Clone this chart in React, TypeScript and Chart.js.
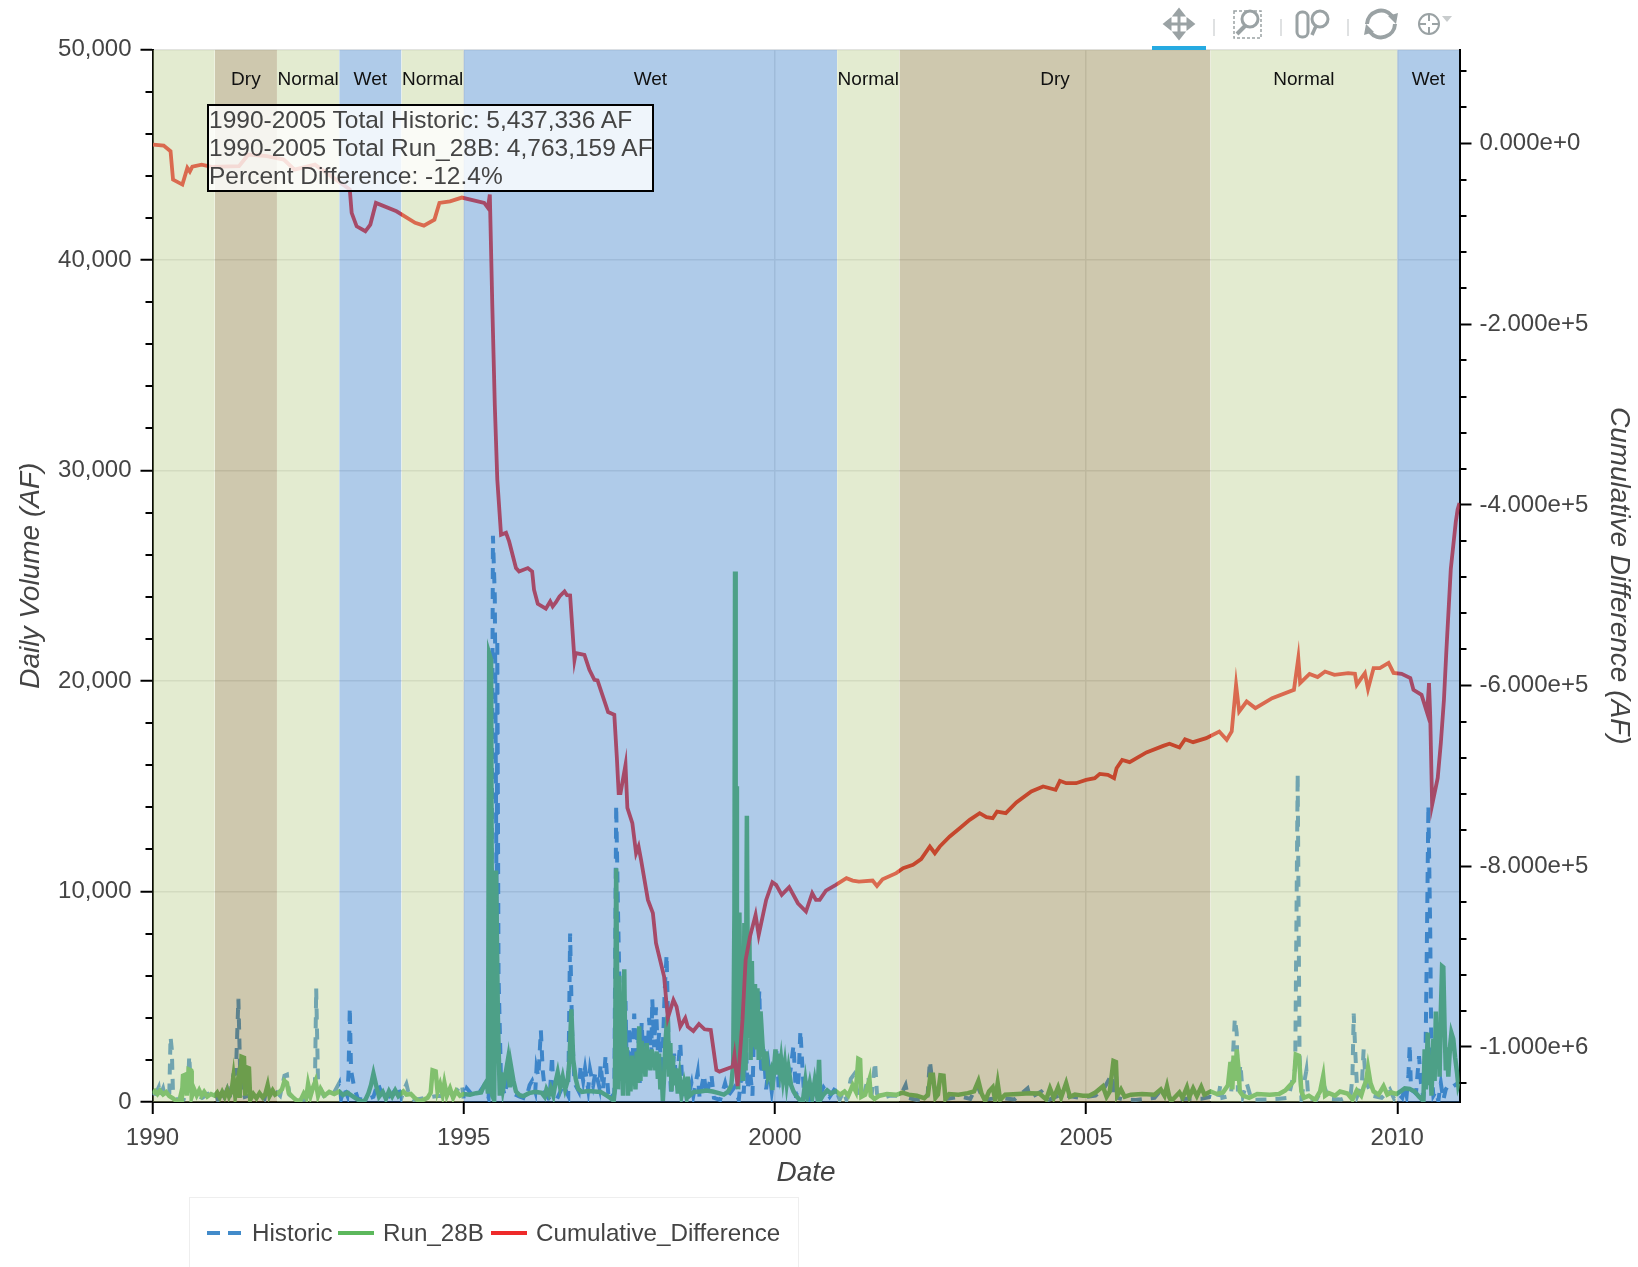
import React, { useEffect, useRef } from "react";
import { Chart, registerables } from "chart.js";

Chart.register(...registerables);

const FONT = '"Liberation Sans", Arial, sans-serif';

const legendNames = ["Historic", "Run_28B", "Cumulative_Difference"];
const tooltipLines = [
  "1990-2005 Total Historic: 5,437,336 AF",
  "1990-2005 Total Run_28B: 4,763,159 AF",
  "Percent Difference: -12.4%",
];

const bandStarts = [1990, 1991, 1992, 1993, 1994, 1995, 2001, 2002, 2007, 2010];
const bandEnds = [1991, 1992, 1993, 1994, 1995, 2001, 2002, 2007, 2010, 2011];
const bandTypes = ["Normal", "Dry", "Normal", "Wet", "Normal", "Wet", "Normal", "Dry", "Normal", "Wet"];
const bandLabels = ["", "Dry", "Normal", "Wet", "Normal", "Wet", "Normal", "Dry", "Normal", "Wet"];
const rightTicks = [0, -200000, -400000, -600000, -800000, -1000000];

const cumulativePoints = [
  [1990.01, -1100], [1990.18, -2200], [1990.29, -8500], [1990.33, -39900], [1990.48, -45400], [1990.56, -26900],
  [1990.6, -31000], [1990.64, -25500], [1990.79, -23300], [1990.95, -25800], [1991.39, -25100], [1991.54, -12200],
  [1991.84, -14000], [1992.11, -17700], [1992.28, -28800], [1992.61, -23300], [1992.95, -39900], [1993.17, -50900],
  [1993.2, -76700], [1993.28, -91600], [1993.42, -97100], [1993.5, -89700], [1993.59, -65700], [1993.92, -75000],
  [1994.22, -87800], [1994.36, -90800], [1994.53, -84200], [1994.61, -65700], [1994.78, -63900], [1994.97, -59800],
  [1995.33, -65700], [1995.39, -71200], [1995.42, -56500], [1995.46, -180000], [1995.5, -290000], [1995.54, -372000],
  [1995.6, -433000], [1995.68, -430800], [1995.73, -440400], [1995.84, -469900], [1995.89, -473600], [1996.03, -469900],
  [1996.1, -473600], [1996.13, -493900], [1996.19, -509400], [1996.32, -514900], [1996.39, -506900], [1996.43, -512400],
  [1996.48, -508000], [1996.54, -501300], [1996.62, -495800], [1996.66, -500000], [1996.71, -500200], [1996.78, -571400],
  [1996.8, -564000], [1996.94, -565900], [1997.02, -582500], [1997.1, -593600], [1997.15, -594300], [1997.29, -623100],
  [1997.32, -629300], [1997.42, -632300], [1997.46, -678500], [1997.49, -719000], [1997.52, -719000], [1997.6, -687700],
  [1997.63, -735300], [1997.71, -752300], [1997.77, -785500], [1997.81, -778200], [1997.85, -792900], [1997.96, -837200],
  [1998.04, -851900], [1998.09, -885200], [1998.22, -922100], [1998.28, -968000], [1998.37, -948000], [1998.42, -955400],
  [1998.48, -977500], [1998.56, -968000], [1998.6, -977500], [1998.69, -982300], [1998.78, -974500], [1998.87, -980400],
  [1998.97, -981200], [1999.06, -1025400], [1999.11, -1027300], [1999.32, -1021800], [1999.35, -1008800], [1999.4, -1043200],
  [1999.48, -970100], [1999.53, -903600], [1999.6, -877800], [1999.69, -853800], [1999.74, -876000], [1999.86, -837200],
  [1999.96, -817600], [2000.02, -820600], [2000.11, -831700], [2000.23, -823100], [2000.37, -840900], [2000.5, -850100],
  [2000.6, -829800], [2000.66, -837200], [2000.72, -837200], [2000.82, -826900], [2000.98, -820600], [2001.15, -813200],
  [2001.25, -815800], [2001.35, -817000], [2001.57, -815800], [2001.64, -821700], [2001.73, -814300], [2001.95, -807600],
  [2002.06, -802100], [2002.22, -798400], [2002.35, -792100], [2002.49, -778100], [2002.57, -785500], [2002.65, -778100],
  [2002.81, -767000], [2002.97, -757800], [2003.13, -748600], [2003.29, -741200], [2003.4, -745600], [2003.5, -746800],
  [2003.57, -739400], [2003.71, -741200], [2003.88, -729400], [2004.12, -717200], [2004.31, -711700], [2004.51, -715400],
  [2004.58, -705400], [2004.68, -708000], [2004.84, -708000], [2005.0, -704300], [2005.14, -702500], [2005.22, -697700],
  [2005.35, -698800], [2005.45, -702500], [2005.49, -691400], [2005.58, -682200], [2005.7, -684700], [2005.97, -674000],
  [2006.24, -666700], [2006.34, -664400], [2006.5, -668500], [2006.59, -659300], [2006.72, -662600], [2006.93, -658200],
  [2007.14, -650800], [2007.26, -660000], [2007.34, -650800], [2007.41, -599100], [2007.46, -628700], [2007.58, -617600],
  [2007.72, -624900], [2007.99, -613900], [2008.34, -604600], [2008.41, -569500], [2008.44, -597200], [2008.59, -587000],
  [2008.72, -590600], [2008.84, -584400], [2008.99, -588100], [2009.21, -586200], [2009.32, -587000], [2009.35, -599100],
  [2009.42, -592000], [2009.48, -586200], [2009.53, -603900], [2009.62, -580600], [2009.72, -580600], [2009.86, -574800],
  [2009.94, -586000], [2010.07, -587000], [2010.21, -591600], [2010.26, -604600], [2010.39, -610200], [2010.48, -630100],
  [2010.51, -597200], [2010.53, -634300], [2010.56, -732000], [2010.65, -702100], [2010.7, -663700], [2010.75, -615700],
  [2010.79, -560200], [2010.86, -471000], [2010.94, -419000], [2010.97, -405000], [2011, -398000],
];

const historicPoints = [
  [1990, 420], [1990.05, 380], [1990.1, 700], [1990.12, 300], [1990.17, 650], [1990.2, 250], [1990.27, 420], [1990.29, 3100],
  [1990.31, 2500], [1990.33, 350], [1990.4, 80], [1990.5, 120], [1990.57, 700], [1990.59, 2200], [1990.62, 500],
  [1990.7, 300], [1990.8, 200], [1990.9, 400], [1991.02, 500], [1991.05, 100], [1991.1, 500], [1991.15, 250], [1991.2, 620],
  [1991.24, 200], [1991.3, 1300], [1991.34, 1350], [1991.38, 4900], [1991.41, 1200], [1991.44, 200], [1991.55, 300],
  [1991.7, 450], [1991.8, 150], [1991.85, 800], [1991.9, 200], [1992.0, 450], [1992.05, 300], [1992.12, 1250], [1992.16, 1300],
  [1992.2, 350], [1992.3, 100], [1992.45, 120], [1992.55, 500], [1992.61, 800], [1992.63, 5400], [1992.66, 900], [1992.75, 300],
  [1992.9, 350], [1993.0, 900], [1993.03, 150], [1993.08, 650], [1993.13, 300], [1993.15, 1400], [1993.17, 4500], [1993.19, 1500],
  [1993.24, 700], [1993.3, 150], [1993.42, 100], [1993.55, 250], [1993.62, 900], [1993.72, 100], [1993.85, 350],
  [1993.94, 780], [1994.0, 200], [1994.05, 650], [1994.08, 850], [1994.13, 250], [1994.2, 100], [1994.4, 200], [1994.6, 300],
  [1994.8, 200], [1994.97, 850], [1995.0, 150], [1995.05, 650], [1995.15, 300], [1995.25, 450], [1995.33, 800], [1995.4, 200],
  [1995.44, 3000], [1995.47, 26900], [1995.5, 24000], [1995.52, 14000], [1995.53, 8000], [1995.54, 22000], [1995.56, 6000],
  [1995.6, 1000], [1995.66, 300], [1995.72, 1400], [1995.8, 400], [1995.9, 250], [1996.0, 150], [1996.06, 800], [1996.1, 1000],
  [1996.15, 500], [1996.17, 1600], [1996.2, 1200], [1996.22, 2300], [1996.24, 3400], [1996.27, 1500], [1996.31, 400],
  [1996.38, 100], [1996.42, 2200], [1996.44, 400], [1996.5, 150], [1996.6, 800], [1996.68, 300], [1996.71, 8000], [1996.74, 3500],
  [1996.78, 900], [1996.85, 500], [1996.88, 1750], [1996.92, 1000], [1996.95, 1600], [1997.0, 600], [1997.03, 1550], [1997.08, 800],
  [1997.12, 1450], [1997.18, 700], [1997.2, 1800], [1997.24, 600], [1997.28, 2200], [1997.33, 100], [1997.42, 400], [1997.45, 14100],
  [1997.48, 9000], [1997.52, 3000], [1997.55, 1200], [1997.6, 4800], [1997.62, 1500], [1997.66, 3600], [1997.7, 800], [1997.74, 4200],
  [1997.77, 1800], [1997.8, 3600], [1997.83, 900], [1997.86, 3800], [1997.89, 1600], [1997.92, 3300], [1997.95, 2000], [1997.98, 4000],
  [1998.01, 1700], [1998.03, 4900], [1998.06, 2600], [1998.09, 4500], [1998.12, 2400], [1998.14, 3300], [1998.18, 1300], [1998.2, 2600],
  [1998.23, 5300], [1998.26, 7000], [1998.29, 3000], [1998.33, 500], [1998.38, 2300], [1998.42, 900], [1998.48, 2800], [1998.52, 400],
  [1998.6, 200], [1998.66, 900], [1998.69, 300], [1998.76, 1400], [1998.79, 200], [1998.86, 1300], [1998.9, 300], [1998.98, 1300],
  [1999.02, 200], [1999.12, 100], [1999.2, 900], [1999.25, 300], [1999.35, 700], [1999.42, 100], [1999.46, 1200], [1999.5, 400],
  [1999.53, 3200], [1999.56, 600], [1999.6, 1500], [1999.64, 300], [1999.68, 5500], [1999.72, 3000], [1999.75, 5300], [1999.78, 1300],
  [1999.82, 2500], [1999.86, 600], [1999.9, 1700], [1999.95, 500], [2000.0, 1600], [2000.03, 2500], [2000.06, 700], [2000.1, 2200],
  [2000.15, 800], [2000.25, 1500], [2000.3, 2700], [2000.34, 200], [2000.38, 1100], [2000.41, 3400], [2000.44, 1800], [2000.47, 300],
  [2000.52, 900], [2000.56, 100], [2000.63, 800], [2000.7, 200], [2000.78, 700], [2000.88, 250], [2000.98, 700], [2001.04, 100],
  [2001.1, 500], [2001.15, 100], [2001.22, 1100], [2001.27, 1300], [2001.34, 300], [2001.42, 200], [2001.5, 1200], [2001.55, 200],
  [2001.61, 1900], [2001.64, 400], [2001.7, 150], [2001.85, 300], [2002.02, 300], [2002.1, 800], [2002.14, 200], [2002.28, 100],
  [2002.45, 150], [2002.49, 1950], [2002.52, 1200], [2002.6, 300], [2002.75, 150], [2003.0, 250], [2003.14, 150], [2003.25, 800],
  [2003.35, 100], [2003.6, 200], [2003.85, 120], [2004.06, 650], [2004.1, 200], [2004.28, 500], [2004.4, 100], [2004.6, 350],
  [2004.9, 200], [2005.15, 300], [2005.3, 700], [2005.41, 1300], [2005.44, 300], [2005.47, 1900], [2005.5, 200], [2005.6, 120],
  [2005.8, 100], [2006.1, 200], [2006.22, 620], [2006.3, 500], [2006.36, 100], [2006.6, 150], [2006.85, 150], [2007.0, 250],
  [2007.12, 150], [2007.16, 850], [2007.19, 200], [2007.33, 300], [2007.36, 2200], [2007.39, 3970], [2007.42, 3300], [2007.44, 500],
  [2007.48, 1800], [2007.52, 300], [2007.58, 900], [2007.66, 100], [2007.9, 120], [2008.1, 150], [2008.25, 200], [2008.36, 1600],
  [2008.4, 15600], [2008.43, 2200], [2008.46, 200], [2008.54, 1500], [2008.57, 200], [2008.7, 100], [2008.82, 800], [2008.9, 150],
  [2009.1, 120], [2009.25, 300], [2009.28, 1200], [2009.3, 4200], [2009.33, 2100], [2009.36, 300], [2009.43, 800], [2009.46, 2500],
  [2009.49, 1000], [2009.6, 300], [2009.75, 200], [2009.88, 600], [2009.95, 150], [2010.02, 400], [2010.08, 200], [2010.12, 700],
  [2010.15, 300], [2010.18, 1300], [2010.2, 2740], [2010.22, 600], [2010.3, 400], [2010.35, 2180], [2010.38, 900], [2010.42, 200],
  [2010.45, 1300], [2010.47, 6000], [2010.5, 14100], [2010.53, 8000], [2010.55, 1500], [2010.58, 300], [2010.62, 500], [2010.66, 50],
  [2010.7, 900], [2010.74, 100], [2010.78, 600], [2010.82, 800], [2010.88, 700], [2010.95, 850], [2011, 760],
];

const runPoints = [
  [1990, 400], [1990.04, 520], [1990.08, 380], [1990.12, 540], [1990.17, 360], [1990.22, 470], [1990.27, 280], [1990.33, 170],
  [1990.38, 60], [1990.43, 20], [1990.45, 280], [1990.47, 80], [1990.49, 1250], [1990.53, 1300], [1990.55, 300], [1990.58, 1550],
  [1990.62, 1500], [1990.63, 250], [1990.67, 600], [1990.71, 320], [1990.75, 560], [1990.79, 300], [1990.83, 480], [1990.88, 260],
  [1990.94, 380], [1991.0, 300], [1991.04, 450], [1991.08, 220], [1991.12, 480], [1991.16, 250], [1991.2, 560], [1991.23, 260],
  [1991.27, 520], [1991.3, 1200], [1991.33, 300], [1991.37, 1000], [1991.4, 200], [1991.43, 2150], [1991.47, 2100], [1991.49, 300],
  [1991.51, 1650], [1991.55, 1600], [1991.57, 100], [1991.62, 380], [1991.67, 180], [1991.72, 420], [1991.77, 220], [1991.81, 350],
  [1991.85, 800], [1991.88, 280], [1991.93, 550], [1991.97, 350], [1992.03, 450], [1992.08, 600], [1992.12, 1000], [1992.16, 900],
  [1992.19, 420], [1992.25, 240], [1992.32, 60], [1992.38, 90], [1992.43, 400], [1992.47, 200], [1992.5, 850], [1992.54, 300],
  [1992.58, 700], [1992.62, 1000], [1992.66, 300], [1992.7, 620], [1992.76, 300], [1992.84, 480], [1992.92, 380], [1993.0, 500],
  [1993.06, 330], [1993.13, 440], [1993.2, 300], [1993.26, 180], [1993.33, 60], [1993.37, 20], [1993.42, 100], [1993.47, 420],
  [1993.51, 800], [1993.55, 1350], [1993.6, 700], [1993.64, 250], [1993.7, 480], [1993.75, 150], [1993.8, 520], [1993.85, 260],
  [1993.9, 550], [1993.95, 280], [1994.03, 500], [1994.08, 350], [1994.15, 380], [1994.2, 230], [1994.27, 60], [1994.33, 70],
  [1994.42, 200], [1994.47, 450], [1994.5, 1500], [1994.55, 1450], [1994.58, 500], [1994.62, 850], [1994.66, 350], [1994.69, 900],
  [1994.73, 300], [1994.78, 650], [1994.83, 200], [1994.88, 520], [1994.94, 300], [1995.0, 380], [1995.1, 350], [1995.2, 420],
  [1995.28, 450], [1995.33, 800], [1995.37, 1000], [1995.39, 400], [1995.41, 21300], [1995.44, 21000], [1995.46, 300], [1995.49, 80],
  [1995.52, 11000], [1995.55, 4000], [1995.58, 300], [1995.6, 1400], [1995.63, 600], [1995.67, 1300], [1995.71, 2000], [1995.74, 700],
  [1995.76, 1700], [1995.8, 1000], [1995.84, 500], [1995.9, 320], [1995.96, 280], [1996.05, 420], [1996.15, 480], [1996.25, 440],
  [1996.3, 250], [1996.33, 600], [1996.37, 350], [1996.4, 650], [1996.44, 300], [1996.48, 1000], [1996.51, 1400], [1996.55, 700],
  [1996.59, 1200], [1996.63, 600], [1996.67, 1000], [1996.7, 2000], [1996.73, 4400], [1996.76, 2000], [1996.8, 1100], [1996.84, 620],
  [1996.9, 480], [1997.0, 520], [1997.1, 500], [1997.2, 480], [1997.3, 300], [1997.36, 180], [1997.41, 60], [1997.43, 600],
  [1997.45, 11100], [1997.48, 600], [1997.5, 6000], [1997.52, 1000], [1997.54, 3000], [1997.56, 300], [1997.58, 6300], [1997.6, 1200],
  [1997.62, 2600], [1997.64, 300], [1997.66, 2000], [1997.68, 500], [1997.7, 2200], [1997.72, 800], [1997.74, 1900], [1997.76, 600],
  [1997.78, 2400], [1997.8, 900], [1997.82, 3600], [1997.84, 1000], [1997.86, 2900], [1997.88, 1400], [1997.9, 2500], [1997.92, 1200],
  [1997.94, 2800], [1997.96, 1600], [1997.98, 2300], [1998.0, 1500], [1998.02, 2500], [1998.04, 1700], [1998.06, 2300], [1998.08, 1500],
  [1998.1, 2400], [1998.12, 1100], [1998.14, 2300], [1998.16, 600], [1998.18, 1400], [1998.2, 50], [1998.22, 1200], [1998.24, 2800],
  [1998.26, 3600], [1998.28, 4100], [1998.3, 1200], [1998.32, 2800], [1998.34, 500], [1998.36, 2200], [1998.38, 800], [1998.41, 1600],
  [1998.44, 400], [1998.47, 1200], [1998.5, 300], [1998.54, 900], [1998.58, 250], [1998.6, 1200], [1998.63, 300], [1998.7, 480],
  [1998.8, 500], [1998.9, 540], [1999.0, 500], [1999.1, 420], [1999.18, 350], [1999.25, 500], [1999.3, 800], [1999.33, 1800],
  [1999.35, 9000], [1999.36, 25200], [1999.37, 8000], [1999.38, 15000], [1999.39, 5000], [1999.41, 600], [1999.43, 9000], [1999.45, 2000],
  [1999.47, 7000], [1999.49, 1000], [1999.51, 8500], [1999.53, 1500], [1999.55, 13600], [1999.57, 3000], [1999.59, 8000], [1999.61, 2000],
  [1999.63, 6700], [1999.65, 2600], [1999.68, 5600], [1999.7, 2500], [1999.72, 5400], [1999.74, 2000], [1999.77, 4300], [1999.8, 2800],
  [1999.83, 1500], [1999.86, 2400], [1999.89, 1200], [1999.93, 1500], [1999.96, 570], [1999.98, 1400], [2000.01, 2500], [2000.03, 1300],
  [2000.05, 2300], [2000.08, 1500], [2000.1, 2000], [2000.13, 1100], [2000.16, 1800], [2000.19, 900], [2000.22, 1600], [2000.26, 800],
  [2000.3, 500], [2000.34, 300], [2000.4, 100], [2000.45, 60], [2000.49, 1000], [2000.52, 300], [2000.56, 900], [2000.6, 200],
  [2000.64, 1000], [2000.68, 250], [2000.71, 2000], [2000.73, 100], [2000.78, 350], [2000.84, 550], [2000.9, 400], [2000.98, 520],
  [2001.05, 350], [2001.12, 500], [2001.18, 300], [2001.25, 800], [2001.3, 500], [2001.34, 2050], [2001.37, 2000], [2001.39, 250],
  [2001.45, 350], [2001.52, 1080], [2001.54, 300], [2001.6, 150], [2001.68, 300], [2001.8, 380], [2001.95, 340], [2002.05, 450],
  [2002.15, 350], [2002.28, 300], [2002.4, 180], [2002.46, 350], [2002.5, 1300], [2002.54, 1300], [2002.58, 200], [2002.62, 350],
  [2002.66, 1270], [2002.71, 1250], [2002.74, 150], [2002.8, 380], [2002.95, 350], [2003.1, 420], [2003.2, 500], [2003.27, 1000],
  [2003.32, 400], [2003.38, 50], [2003.44, 500], [2003.5, 700], [2003.54, 100], [2003.58, 900], [2003.62, 100], [2003.7, 350],
  [2003.9, 380], [2004.1, 420], [2004.25, 400], [2004.36, 120], [2004.42, 650], [2004.48, 200], [2004.55, 700], [2004.6, 220],
  [2004.68, 900], [2004.74, 250], [2004.82, 350], [2004.95, 300], [2005.05, 300], [2005.15, 450], [2005.27, 750], [2005.33, 250],
  [2005.38, 500], [2005.44, 1950], [2005.48, 1900], [2005.5, 300], [2005.56, 600], [2005.62, 250], [2005.72, 350], [2005.9, 380],
  [2006.1, 350], [2006.2, 600], [2006.26, 300], [2006.3, 750], [2006.34, 200], [2006.37, 50], [2006.5, 450], [2006.55, 200],
  [2006.62, 700], [2006.66, 250], [2006.72, 650], [2006.78, 280], [2006.85, 720], [2006.9, 350], [2007.0, 500], [2007.1, 380],
  [2007.2, 450], [2007.28, 800], [2007.32, 1900], [2007.35, 600], [2007.37, 2200], [2007.4, 1000], [2007.42, 2500], [2007.45, 1600],
  [2007.47, 500], [2007.52, 300], [2007.62, 200], [2007.75, 380], [2007.95, 350], [2008.1, 380], [2008.2, 550], [2008.28, 800],
  [2008.34, 1000], [2008.37, 2260], [2008.42, 2200], [2008.46, 500], [2008.5, 200], [2008.58, 300], [2008.68, 100], [2008.76, 500],
  [2008.81, 1230], [2008.84, 300], [2008.9, 420], [2009.0, 300], [2009.08, 500], [2009.2, 400], [2009.28, 120], [2009.35, 550],
  [2009.42, 300], [2009.46, 700], [2009.5, 1000], [2009.53, 1630], [2009.57, 900], [2009.62, 500], [2009.7, 350], [2009.78, 750],
  [2009.84, 350], [2009.9, 450], [2009.99, 380], [2010.05, 500], [2010.12, 650], [2010.2, 620], [2010.28, 500], [2010.35, 250],
  [2010.42, 50], [2010.44, 2500], [2010.46, 600], [2010.49, 3300], [2010.51, 800], [2010.53, 2000], [2010.55, 300], [2010.58, 3000],
  [2010.6, 1000], [2010.62, 4300], [2010.64, 1600], [2010.66, 3400], [2010.68, 1200], [2010.7, 4300], [2010.72, 6450], [2010.74, 6400],
  [2010.76, 3600], [2010.78, 1500], [2010.8, 2600], [2010.82, 1200], [2010.85, 2700], [2010.87, 3290], [2010.9, 3000], [2010.93, 2100],
  [2010.96, 1400], [2010.98, 800], [2011, 1000],
];

const toPoints = (list: number[][]) => list.map(([x, y]) => ({ x, y }));

const BAND_COLORS: Record<string, string> = {
  Normal: "rgba(185,205,137,0.4)",
  Dry: "rgba(132,117,52,0.4)",
  Wet: "rgba(55,125,200,0.4)",
};

const PLOT = { left: 152.5, right: 1459.5, top: 49.5, bottom: 1102 };

const axisExtras = {
  id: "axisExtras",
  afterDraw(chart: any) {
    const { ctx, scales, chartArea } = chart;
    ctx.save();
    ctx.strokeStyle = "#000";
    ctx.lineWidth = 2;
    ctx.beginPath();
    for (let v = 0; v <= 50000; v += 2000) {
      if (v % 10000 === 0) continue;
      const y = Math.round(scales.y.getPixelForValue(v));
      ctx.moveTo(chartArea.left - 7, y);
      ctx.lineTo(chartArea.left, y);
    }
    for (let v = 80000; v >= -1040000; v -= 40000) {
      if (v % 200000 === 0) continue;
      const y = Math.round(scales.y2.getPixelForValue(v));
      ctx.moveTo(chartArea.right, y);
      ctx.lineTo(chartArea.right + 7, y);
    }
    ctx.stroke();
    ctx.fillStyle = "#111";
    ctx.font = `19px ${FONT}`;
    ctx.textAlign = "center";
    ctx.textBaseline = "middle";
    bandLabels.forEach((label, i) => {
      if (!label) return;
      const x = scales.x.getPixelForValue((bandStarts[i] + bandEnds[i]) / 2);
      ctx.fillText(label, x, 80);
    });
    ctx.restore();
  },
};

const Icon = ({ x, children }: { x: number; children: React.ReactNode }) => (
  <svg
    width={40}
    height={40}
    viewBox="-20 -20 40 40"
    style={{ position: "absolute", left: x - 20, top: 4, overflow: "visible" }}
    fill="none"
    stroke="#9aa2a4"
    strokeWidth={3}
  >
    {children}
  </svg>
);

export default function App() {
  const ref = useRef<HTMLCanvasElement | null>(null);

  useEffect(() => {
    document.body.style.margin = "0";
    const bandSets = bandStarts.map((s, i) => ({
      label: bandTypes[i],
      data: toPoints([[s, 50000], [bandEnds[i], 50000]]),
      yAxisID: "y",
      fill: "origin",
      backgroundColor: BAND_COLORS[bandTypes[i]],
      borderWidth: 0,
      pointRadius: 0,
      order: 0,
    }));
    const titleFont = { family: FONT, size: 28, style: "italic", weight: "normal" };
    const tickFont = { family: FONT, size: 24 };
    const chart = new Chart(ref.current!, {
      type: "line",
      data: {
        datasets: [
          {
            label: legendNames[0],
            data: toPoints(historicPoints),
            yAxisID: "y",
            borderColor: "#428bca",
            borderWidth: 4,
            borderDash: [11, 9],
            pointRadius: 0,
            order: 3,
          },
          {
            label: legendNames[1],
            data: toPoints(runPoints),
            yAxisID: "y",
            borderColor: "#5cb85c",
            borderWidth: 4.5,
            pointRadius: 0,
            order: 2,
          },
          {
            label: legendNames[2],
            data: toPoints(cumulativePoints),
            yAxisID: "y2",
            borderColor: "#f02828",
            borderWidth: 3.8,
            pointRadius: 0,
            order: 1,
          },
          ...bandSets,
        ] as any,
      },
      options: {
        responsive: false,
        animation: false,
        parsing: false as any,
        normalized: true,
        layout: { padding: { top: PLOT.top, left: 0, right: 0, bottom: 0 } },
        plugins: { legend: { display: false }, tooltip: { enabled: false }, title: { display: false } },
        elements: { line: { tension: 0 } },
        scales: {
          x: {
            type: "linear",
            min: 1990,
            max: 2011,
            afterFit: (a: any) => { a.height = 1267 - PLOT.bottom; },
            ticks: {
              stepSize: 5,
              includeBounds: false,
              maxRotation: 0,
              padding: 10,
              color: "#444",
              font: tickFont,
              callback: (v: any) => String(v),
            },
            grid: { color: "#e5e5e5", lineWidth: 1.5, tickColor: "#000", tickWidth: 2, tickLength: 12 },
            border: { color: "#000", width: 2 },
            title: {
              display: true,
              text: "Date",
              color: "#444",
              font: titleFont,
              padding: { top: 0, bottom: 77 },
            },
          },
          y: {
            type: "linear",
            position: "left",
            min: 0,
            max: 50000,
            afterFit: (a: any) => { a.width = PLOT.left; },
            ticks: {
              stepSize: 10000,
              padding: 9,
              color: "#444",
              font: tickFont,
              callback: (v: any) => Number(v).toLocaleString("en-US"),
            },
            grid: { color: "#e5e5e5", lineWidth: 1.5, tickColor: "#000", tickWidth: 2, tickLength: 12 },
            border: { color: "#000", width: 2 },
            title: {
              display: true,
              text: "Daily Volume (AF)",
              color: "#444",
              font: titleFont,
              padding: { top: 14, bottom: 0 },
            },
          },
          y2: {
            type: "linear",
            position: "right",
            min: -1060900,
            max: 104100,
            afterFit: (a: any) => { a.width = 1638 - PLOT.right; },
            afterBuildTicks: (a: any) => { a.ticks = rightTicks.map((value) => ({ value })); },
            ticks: {
              padding: 8,
              color: "#444",
              font: tickFont,
              callback: (v: any) => Number(v).toExponential(3),
            },
            grid: { drawOnChartArea: false, tickColor: "#000", tickWidth: 2, tickLength: 12 },
            border: { color: "#000", width: 2 },
            title: {
              display: true,
              text: "Cumulative Difference (AF)",
              color: "#444",
              font: titleFont,
              padding: { top: 2, bottom: 0 },
            },
          },
        },
      },
      plugins: [axisExtras],
    } as any);
    return () => chart.destroy();
  }, []);

  const text: React.CSSProperties = {
    position: "absolute",
    fontFamily: FONT,
    fontSize: 24.2,
    color: "#444",
    whiteSpace: "nowrap",
    lineHeight: "28px",
  };

  return (
    <div
      style={{
        position: "absolute",
        left: 0,
        top: 0,
        width: 1638,
        height: 1267,
        overflow: "hidden",
        background: "#fff",
        filter: "blur(0.5px)",
      }}
    >
      <canvas ref={ref} width={1638} height={1267} style={{ position: "absolute", left: 0, top: 0, display: "block" }} />

      <div style={{ position: "absolute", left: 1152, top: 46, width: 54, height: 4, background: "#26aae1" }} />
      <Icon x={1179}>
        <path d="M0 -12V12M-12 0H12" />
        <path d="M-4 -9L0 -14L4 -9ZM-4 9L0 14L4 9ZM-9 -4L-14 0L-9 4ZM9 -4L14 0L9 4Z" fill="#9aa2a4" />
      </Icon>
      <Icon x={1247}>
        <rect x={-13} y={-13} width={27} height={27} strokeDasharray="3 2" strokeWidth={1.5} />
        <circle cx={3} cy={-5} r={8} />
        <path d="M-2 2L-10 10" strokeWidth={4} />
      </Icon>
      <Icon x={1313}>
        <rect x={-16} y={-12} width={11} height={25} rx={5} />
        <circle cx={7} cy={-5} r={8} />
        <path d="M3 2L-1 11" strokeWidth={3.5} />
      </Icon>
      <Icon x={1381}>
        <path d="M-14 0A14 14 0 0 1 11 -8M14 0A14 14 0 0 1 -11 8" strokeWidth={4} />
        <path d="M7 -8L17 -11L15 0ZM-7 8L-17 11L-15 0Z" fill="#9aa2a4" stroke="none" />
      </Icon>
      <Icon x={1429}>
        <circle cx={0} cy={0} r={10} strokeWidth={2} />
        <path d="M0 -10V-3M0 3V10M-10 0H-3M3 0H10" strokeWidth={2} />
        <path d="M13 -8H23L18 -2Z" fill="#c8cccd" stroke="none" />
      </Icon>
      {[1212.5, 1280, 1347].map((x) => (
        <div key={x} style={{ position: "absolute", left: x, top: 19, width: 2, height: 17, background: "#dfe1e2" }} />
      ))}

      <div
        style={{
          position: "absolute",
          left: 207,
          top: 104,
          width: 443,
          height: 84,
          border: "2px solid #000",
          background: "rgba(255,255,255,0.8)",
        }}
      >
        {tooltipLines.map((line, i) => (
          <div key={line} style={{ ...text, fontSize: 24.5, left: 0, top: i * 28.2 }}>{line}</div>
        ))}
      </div>

      <div style={{ position: "absolute", left: 189, top: 1197, width: 610, height: 72, border: "1px solid #eee", boxSizing: "border-box" }} />
      <div style={{ position: "absolute", left: 207, top: 1231, width: 13, height: 4, background: "#428bca" }} />
      <div style={{ position: "absolute", left: 228, top: 1231, width: 13, height: 4, background: "#428bca" }} />
      <div style={{ ...text, left: 252, top: 1219 }}>{legendNames[0]}</div>
      <div style={{ position: "absolute", left: 338, top: 1231, width: 36, height: 4, background: "#5cb85c" }} />
      <div style={{ ...text, left: 383, top: 1219 }}>{legendNames[1]}</div>
      <div style={{ position: "absolute", left: 491, top: 1231, width: 36, height: 4, background: "#ee2a2a" }} />
      <div style={{ ...text, left: 536, top: 1219 }}>{legendNames[2]}</div>
    </div>
  );
}
